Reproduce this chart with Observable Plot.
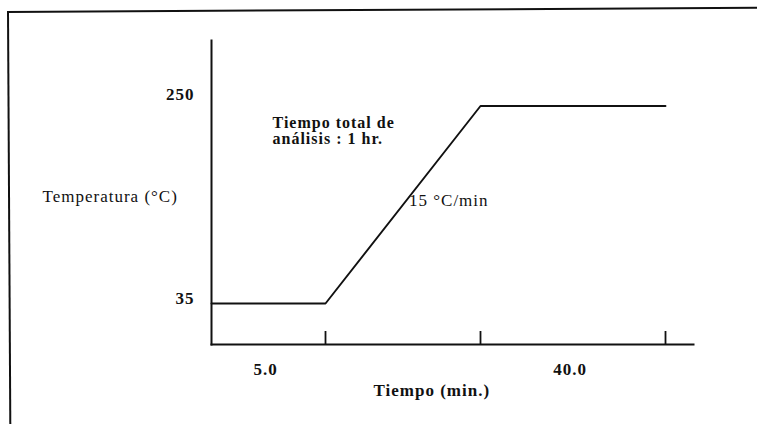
<!DOCTYPE html>
<html>
<head>
<meta charset="utf-8">
<script src="https://cdn.jsdelivr.net/npm/d3@7"></script>
<script src="https://cdn.jsdelivr.net/npm/@observablehq/plot@0.6"></script>
<style>
  html, body { margin: 0; padding: 0; background: #fff; }
  #wrap { position: relative; width: 757px; height: 424px; overflow: hidden; background: #fff; }
  #box { position: absolute; left: 7px; top: 11px; width: 780px; height: 440px;
         border-left: 2px solid #111; border-top: 2px solid #111;
         transform-origin: 0 0; transform: rotate(-0.32deg); }
  #chart { position: absolute; left: 0; top: 0; }
</style>
</head>
<body>
<div id="wrap"><div id="box"></div><div id="chart"></div></div>
<script>
// Temperature program (oven): breakpoints in minutes and °C
const times = [0, 5, 19.33, 59.33];
const temps = [35, 35, 250, 250];
// y tick labels
const yTicks = [35, 250];
// isothermal holds: start (min) and duration (min)
const holdStarts = [0, 19.33];
const holdDurations = [5.0, 40.0];
// ramp rate label
const rampLabel = ["15 °C/min"];
const noteLabel = ["Tiempo total de\nanálisis : 1 hr."];
const xLabel = ["Tiempo (min.)"];
const yLabel = ["Temperatura (°C)"];

const profile = times.map((t, i) => ({t, T: temps[i]}));
const ramp = [{t: (times[1] + times[2]) / 2, T: (temps[1] + temps[2]) / 2, label: rampLabel[0]}];
const holds = holdStarts.map((s, i) => ({mid: s + holdDurations[i] / 2, label: holdDurations[i].toFixed(1)}));

const chart = Plot.plot({
  width: 757,
  height: 424,
  marginLeft: 211,
  marginRight: 64,
  marginTop: 40,
  marginBottom: 80,
  style: {fontFamily: "'Liberation Serif', serif", fontSize: "17px", letterSpacing: "1px", color: "#111", background: "transparent", overflow: "visible"},
  x: {type: "linear", domain: times, range: [211, 325, 480, 665], axis: null},
  y: {domain: [35, 250], range: [303, 105.5], axis: null},
  marks: [
    Plot.frame({anchor: "left", stroke: "#111", strokeWidth: 2}),
    Plot.frame({anchor: "bottom", stroke: "#111", strokeWidth: 2}),
    Plot.tickX(times.slice(1), {x: d => d, insetTop: 291, stroke: "#111", strokeWidth: 1.8}),
    Plot.line(profile, {x: "t", y: "T", stroke: "#111", strokeWidth: 1.9}),
    Plot.text(yTicks.filter(d => d === 250), {frameAnchor: "left", y: d => d, text: d => String(d), textAnchor: "end", dx: -17, dy: -11, fontWeight: "bold"}),
    Plot.text(yTicks.filter(d => d === 35), {frameAnchor: "left", y: d => d, text: d => String(d), textAnchor: "end", dx: -17, dy: -5, fontWeight: "bold"}),
    Plot.text(holds, {x: "mid", frameAnchor: "bottom", text: "label", dx: -3, dy: 30, fontWeight: "bold"}),
    Plot.text(ramp, {x: "t", y: "T", text: "label", textAnchor: "start", dx: 6, dy: -4}),
    Plot.text(noteLabel, {frameAnchor: "top-left", text: d => d, textAnchor: "start", lineAnchor: "top", lineHeight: 1, fontSize: 16, dx: 61, dy: 76, fontWeight: "bold", letterSpacing: "1.4px"}),
    Plot.text(xLabel, {frameAnchor: "bottom-left", text: d => d, textAnchor: "start", dx: 162, dy: 51, fontWeight: "bold"}),
    Plot.text(yLabel, {frameAnchor: "left", text: d => d, textAnchor: "start", dx: -169, dy: 4})
  ]
});
document.getElementById("chart").append(chart);
</script>
</body>
</html>
